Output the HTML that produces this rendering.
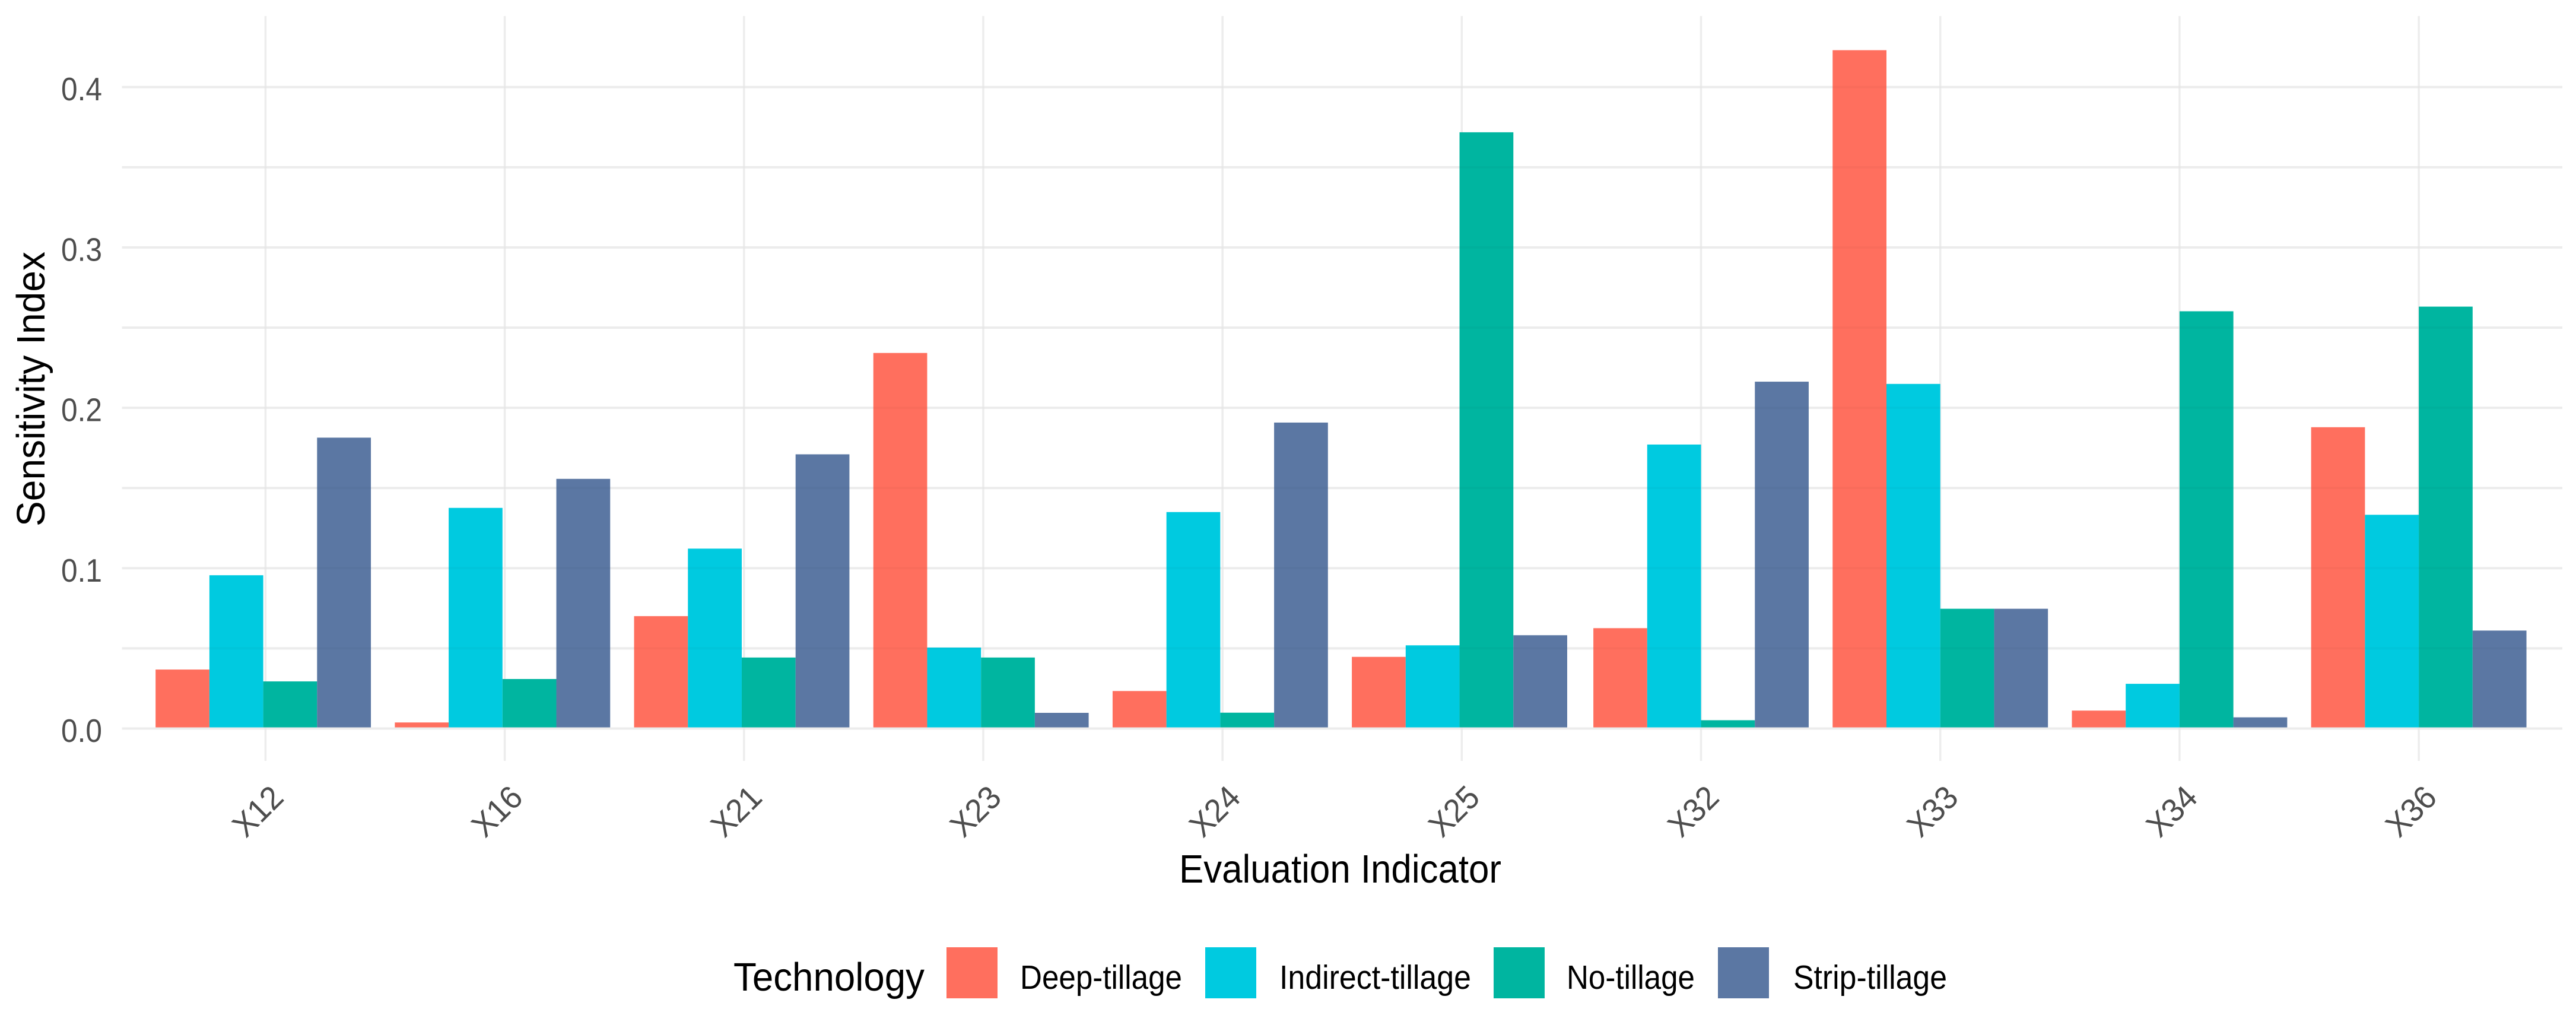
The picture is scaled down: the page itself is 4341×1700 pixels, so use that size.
<!DOCTYPE html>
<html lang="en">
<head>
<meta charset="utf-8">
<title>Sensitivity Index by Evaluation Indicator</title>
<style>
  html, body { margin: 0; padding: 0; background: #fff; }
  svg { display: block; font-family: "Liberation Sans", Arial, sans-serif; }
  .tick { fill: #4D4D4D; font-size: 55px; }
  .title { fill: #000; font-size: 67px; }
  .legend-label { fill: #000; font-size: 57px; }
</style>
</head>
<body>
<svg id="chart" xmlns="http://www.w3.org/2000/svg" width="4341" height="1700" viewBox="0 0 4341 1700">
  <rect x="0" y="0" width="4341" height="1700" fill="#ffffff"/>
  <g id="grid"></g>
  <g id="bars"></g>
  <g id="grid-tint"></g>
  <g id="y-ticks"></g>
  <g id="x-ticks"></g>

  <text class="title" transform="translate(75,887) rotate(-90)" x="0" y="0" textLength="463" lengthAdjust="spacingAndGlyphs">Sensitivity Index</text>
  <text class="title" x="1987" y="1487" textLength="543" lengthAdjust="spacingAndGlyphs">Evaluation Indicator</text>

  <g>
    <text class="title" x="1236" y="1669" textLength="322" lengthAdjust="spacingAndGlyphs">Technology</text>
    <g>
      <rect x="1595" y="1596" width="86" height="86" fill="#FF6F5E"/>
      <text class="legend-label" x="1719" y="1666" textLength="273" lengthAdjust="spacingAndGlyphs">Deep-tillage</text>
    </g>
    <g>
      <rect x="2031" y="1596" width="86" height="86" fill="#00CAE0"/>
      <text class="legend-label" x="2156" y="1666" textLength="323" lengthAdjust="spacingAndGlyphs">Indirect-tillage</text>
    </g>
    <g>
      <rect x="2517" y="1596" width="86" height="86" fill="#00B5A0"/>
      <text class="legend-label" x="2640" y="1666" textLength="216" lengthAdjust="spacingAndGlyphs">No-tillage</text>
    </g>
    <g>
      <rect x="2895" y="1596" width="86" height="86" fill="#5B77A3"/>
      <text class="legend-label" x="3022" y="1666" textLength="259" lengthAdjust="spacingAndGlyphs">Strip-tillage</text>
    </g>
  </g>
</svg>

<script>
const categories = ["X12", "X16", "X21", "X23", "X24", "X25", "X32", "X33", "X34", "X36"];
const deepTillage = [0.0368, 0.0038, 0.0701, 0.2342, 0.0234, 0.0447, 0.0626, 0.4230, 0.0112, 0.1879];
const indirectTillage = [0.0956, 0.1376, 0.1122, 0.0505, 0.1350, 0.0519, 0.1771, 0.2149, 0.0279, 0.1333];
const noTillage = [0.0294, 0.0309, 0.0443, 0.0443, 0.0099, 0.3718, 0.0052, 0.0747, 0.2602, 0.2631];
const stripTillage = [0.1814, 0.1557, 0.1710, 0.0098, 0.1908, 0.0582, 0.2163, 0.0747, 0.0070, 0.0611];
const seriesNames = ["deep-tillage", "indirect-tillage", "no-tillage", "strip-tillage"];
const yTickValues = [0.0, 0.1, 0.2, 0.3, 0.4];
const yGridValues = [0.0, 0.05, 0.1, 0.15, 0.2, 0.25, 0.3, 0.35, 0.4];

const NS = "http://www.w3.org/2000/svg";
const seriesValues = [deepTillage, indirectTillage, noTillage, stripTillage];
const seriesFills = ["#FF6F5E", "#00CAE0", "#00B5A0", "#5B77A3"];

const panelLeft = 205.5, panelRight = 4318, panelTop = 27, panelBottom = 1282;
const yZero = 1227.5, yPerUnit = 2702;
const catStep = (panelRight - panelLeft) / (categories.length + 0.2);

function yScale(v) { return yZero - v * yPerUnit; }
function xScale(i) { return panelLeft + (i + 0.6) * catStep; }
// In the reference the first six bar groups sit slightly left of their grid lines.
function groupLeft(i) { return xScale(i) - catStep * 0.45 - (i < 6 ? 3.8 : 0); }

const gridGroup = document.getElementById("grid");
const tintGroup = document.getElementById("grid-tint");
const barsGroup = document.getElementById("bars");
const yTickGroup = document.getElementById("y-ticks");
const xTickGroup = document.getElementById("x-ticks");

yGridValues.forEach(function (v) {
  const line = document.createElementNS(NS, "rect");
  
  
  line.setAttribute("x", panelLeft);
  line.setAttribute("y", yScale(v) - 2);
  line.setAttribute("width", panelRight - panelLeft);
  line.setAttribute("height", 4);
  line.setAttribute("fill", "#F2F2F2");
  gridGroup.appendChild(line);

  const tint = document.createElementNS(NS, "rect");
  
  
  tint.setAttribute("x", panelLeft);
  tint.setAttribute("y", yScale(v) - 2);
  tint.setAttribute("width", panelRight - panelLeft);
  tint.setAttribute("height", 4);
  tint.setAttribute("fill", "#000000");
  tint.setAttribute("fill-opacity", "0.025");
  tintGroup.appendChild(tint);
});

categories.forEach(function (c, i) {
  const line = document.createElementNS(NS, "rect");
  
  
  line.setAttribute("x", xScale(i) - 1.75);
  line.setAttribute("y", panelTop);
  line.setAttribute("width", 3.5);
  line.setAttribute("height", panelBottom - panelTop);
  line.setAttribute("fill", "#EDEDED");
  gridGroup.appendChild(line);
});

const barWidth = catStep * 0.9 / seriesValues.length;
seriesValues.forEach(function (values, s) {
  const group = document.createElementNS(NS, "g");
  
  
  values.forEach(function (v, i) {
    const bar = document.createElementNS(NS, "rect");
    
    
    const top = yScale(v);
    const base = yScale(0) - 2;
    bar.setAttribute("x", groupLeft(i) + s * barWidth);
    bar.setAttribute("y", top);
    bar.setAttribute("width", barWidth);
    bar.setAttribute("height", Math.max(0, base - top));
    bar.setAttribute("fill", seriesFills[s]);
    bar.setAttribute("aria-label", categories[i] + " " + seriesNames[s]);
    group.appendChild(bar);
  });
  barsGroup.appendChild(group);
});

yTickValues.forEach(function (v) {
  const label = document.createElementNS(NS, "text");
  
  
  label.setAttribute("class", "tick");
  label.setAttribute("x", 172);
  label.setAttribute("y", yScale(v) + 22.5);
  label.setAttribute("text-anchor", "end");
  label.setAttribute("textLength", 69);
  label.setAttribute("lengthAdjust", "spacingAndGlyphs");
  label.textContent = v.toFixed(1);
  yTickGroup.appendChild(label);
});

categories.forEach(function (c, i) {
  const label = document.createElementNS(NS, "text");
  
  
  label.setAttribute("class", "tick");
  label.setAttribute("transform", "translate(" + (xScale(i) - 14) + ",1366) rotate(-45)");
  label.setAttribute("x", 0);
  label.setAttribute("y", 20);
  label.setAttribute("text-anchor", "middle");
  label.setAttribute("textLength", 94);
  label.setAttribute("lengthAdjust", "spacingAndGlyphs");
  label.textContent = c;
  xTickGroup.appendChild(label);
});
</script>
</body>
</html>
